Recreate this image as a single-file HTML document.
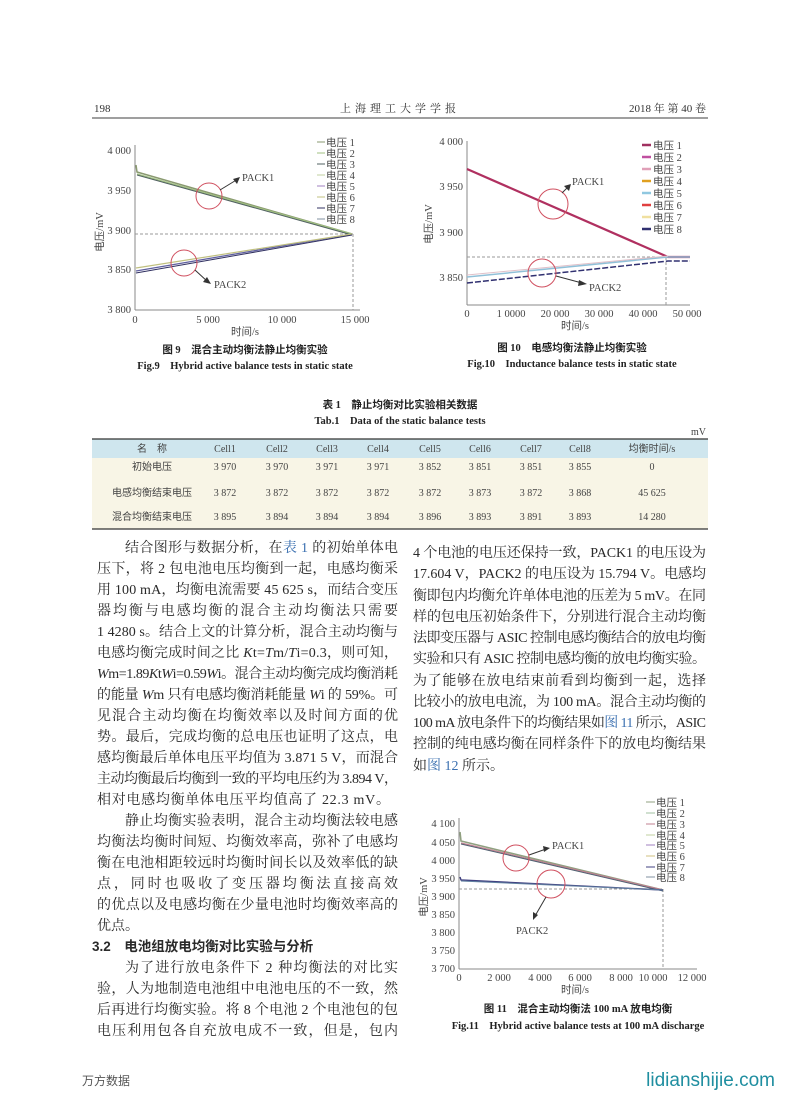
<!DOCTYPE html>
<html><head><meta charset="utf-8"><style>
html,body{margin:0;padding:0;background:#fff}
svg{display:block}
.cn{font-family:"Liberation Serif","Noto Serif CJK SC","Noto Sans CJK SC",serif}
.t{font-size:14px;fill:#2a2a2a}
.tk{font-family:"Liberation Serif","Noto Sans CJK SC",serif;font-size:10.5px;fill:#444}
.lg{font-family:"Liberation Serif","Noto Sans CJK SC",serif;font-size:10.5px;fill:#444}
.cap{font-family:"Liberation Serif","Noto Sans CJK SC",serif;font-size:10.5px;fill:#222;font-weight:bold}
.tb{font-family:"Liberation Serif","Noto Sans CJK SC",serif;font-size:10px;fill:#444}
a{fill:#3a6fb0}
</style></head><body>
<svg width="800" height="1114" viewBox="0 0 800 1114" xmlns="http://www.w3.org/2000/svg">
<!-- header -->
<g class="cn" font-size="11" fill="#333">
<text x="94" y="112">198</text>
<text x="400" y="112" text-anchor="middle" letter-spacing="4">上海理工大学学报</text>
<text x="706" y="112" text-anchor="end">2018 年 第 40 卷</text>
</g>
<line x1="92" y1="118" x2="708" y2="118" stroke="#666" stroke-width="1.2"/>

<!-- FIG 9 -->
<g>
<line x1="135" y1="145" x2="135" y2="310" stroke="#888"/>
<line x1="135" y1="310" x2="360" y2="310" stroke="#888"/>
<g class="tk" text-anchor="end">
<text x="131" y="154">4 000</text><text x="131" y="194">3 950</text><text x="131" y="234">3 900</text><text x="131" y="273">3 850</text><text x="131" y="313">3 800</text>
</g>
<g class="tk" text-anchor="middle">
<text x="135" y="323">0</text><text x="208" y="323">5 000</text><text x="282" y="323">10 000</text><text x="355" y="323">15 000</text>
</g>
<text class="tk" x="245" y="335" text-anchor="middle">时间/s</text>
<text class="tk" transform="translate(103,232) rotate(-90)" text-anchor="middle">电压/mV</text>
<line x1="135" y1="234" x2="354" y2="234" stroke="#999" stroke-dasharray="3,2"/>
<line x1="353" y1="234" x2="353" y2="310" stroke="#999" stroke-dasharray="3,2"/>
<polyline points="136,165 137,172 352,234" fill="none" stroke="#8a9a70" stroke-width="1.5"/>
<line x1="137" y1="174" x2="352" y2="234" stroke="#a0c080" stroke-width="1.2"/>
<line x1="137" y1="175" x2="352" y2="235" stroke="#506060" stroke-width="1"/>
<line x1="136" y1="271" x2="352" y2="234" stroke="#6060a0" stroke-width="1.3"/>
<line x1="136" y1="268" x2="352" y2="234" stroke="#c0c080" stroke-width="1.2"/>
<line x1="136" y1="273" x2="352" y2="235" stroke="#303060" stroke-width="1"/>
<circle cx="209" cy="196" r="13" fill="none" stroke="#d05060"/>
<circle cx="184" cy="263" r="13" fill="none" stroke="#d05060"/>
<line x1="220" y1="190" x2="238" y2="179" stroke="#333"/><polygon points="240,177 233,179 237,184" fill="#333"/>
<line x1="195" y1="270" x2="208" y2="282" stroke="#333"/><polygon points="211,284 203,282 207,277" fill="#333"/>
<text class="tk" x="242" y="181">PACK1</text>
<text class="tk" x="214" y="288">PACK2</text>
<g class="lg">
<line x1="317" y1="142" x2="325" y2="142" stroke="#8a9a70"/><text x="326" y="146">电压 1</text>
<line x1="317" y1="153" x2="325" y2="153" stroke="#a0c080"/><text x="326" y="157">电压 2</text>
<line x1="317" y1="164" x2="325" y2="164" stroke="#506060"/><text x="326" y="168">电压 3</text>
<line x1="317" y1="175" x2="325" y2="175" stroke="#c0d0a0"/><text x="326" y="179">电压 4</text>
<line x1="317" y1="186" x2="325" y2="186" stroke="#a080c0"/><text x="326" y="190">电压 5</text>
<line x1="317" y1="197" x2="325" y2="197" stroke="#c0c080"/><text x="326" y="201">电压 6</text>
<line x1="317" y1="208" x2="325" y2="208" stroke="#303060"/><text x="326" y="212">电压 7</text>
<line x1="317" y1="219" x2="325" y2="219" stroke="#8090a0"/><text x="326" y="223">电压 8</text>
</g>
<text class="cap" x="245" y="353" text-anchor="middle">图 9　混合主动均衡法静止均衡实验</text>
<text class="cap" x="245" y="369" text-anchor="middle">Fig.9　Hybrid active balance tests in static state</text>
</g>

<!-- FIG 10 -->
<g>
<line x1="467" y1="141" x2="467" y2="305" stroke="#888"/>
<line x1="467" y1="305" x2="690" y2="305" stroke="#888"/>
<g class="tk" text-anchor="end">
<text x="463" y="145">4 000</text><text x="463" y="190">3 950</text><text x="463" y="236">3 900</text><text x="463" y="281">3 850</text>
</g>
<g class="tk" text-anchor="middle">
<text x="467" y="317">0</text><text x="511" y="317">1 0000</text><text x="555" y="317">20 000</text><text x="599" y="317">30 000</text><text x="643" y="317">40 000</text><text x="687" y="317">50 000</text>
</g>
<text class="tk" x="575" y="329" text-anchor="middle">时间/s</text>
<text class="tk" transform="translate(432,224) rotate(-90)" text-anchor="middle">电压/mV</text>
<line x1="467" y1="257" x2="668" y2="257" stroke="#999" stroke-dasharray="3,2"/>
<line x1="666" y1="257" x2="666" y2="305" stroke="#999" stroke-dasharray="3,2"/>
<polyline points="467,169 668,257 690,257" fill="none" stroke="#b03060" stroke-width="2.2"/>
<polyline points="467,277 668,257 690,257" fill="none" stroke="#90c0d8" stroke-width="1.5"/>
<polyline points="467,275 668,256" fill="none" stroke="#e0c0c8" stroke-width="1"/>
<polyline points="467,283 668,261 690,261" fill="none" stroke="#303070" stroke-width="1.5" stroke-dasharray="6,2"/>
<circle cx="553" cy="204" r="15" fill="none" stroke="#d05060"/>
<circle cx="542" cy="273" r="14" fill="none" stroke="#d05060"/>
<line x1="562" y1="193" x2="568" y2="187" stroke="#333"/><polygon points="571,184 564,186 569,191" fill="#333"/>
<line x1="556" y1="276" x2="582" y2="283" stroke="#333"/><polygon points="587,284 579,280 578,286" fill="#333"/>
<text class="tk" x="572" y="185">PACK1</text>
<text class="tk" x="589" y="291">PACK2</text>
<g class="lg">
<line x1="642" y1="145" x2="651" y2="145" stroke="#a03060" stroke-width="2.5"/><text x="653" y="149">电压 1</text>
<line x1="642" y1="157" x2="651" y2="157" stroke="#c050a0" stroke-width="2.5"/><text x="653" y="161">电压 2</text>
<line x1="642" y1="169" x2="651" y2="169" stroke="#e0a0b8" stroke-width="2.5"/><text x="653" y="173">电压 3</text>
<line x1="642" y1="181" x2="651" y2="181" stroke="#e0a020" stroke-width="2.5"/><text x="653" y="185">电压 4</text>
<line x1="642" y1="193" x2="651" y2="193" stroke="#90c8e0" stroke-width="2.5"/><text x="653" y="197">电压 5</text>
<line x1="642" y1="205" x2="651" y2="205" stroke="#e04040" stroke-width="2.5"/><text x="653" y="209">电压 6</text>
<line x1="642" y1="217" x2="651" y2="217" stroke="#f0e0a0" stroke-width="2.5"/><text x="653" y="221">电压 7</text>
<line x1="642" y1="229" x2="651" y2="229" stroke="#303070" stroke-width="2.5"/><text x="653" y="233">电压 8</text>
</g>
<text class="cap" x="572" y="351" text-anchor="middle">图 10　电感均衡法静止均衡实验</text>
<text class="cap" x="572" y="367" text-anchor="middle">Fig.10　Inductance balance tests in static state</text>
</g>

<!-- TABLE -->
<text class="cap" x="400" y="408" text-anchor="middle">表 1　静止均衡对比实验相关数据</text>
<text class="cap" x="400" y="424" text-anchor="middle">Tab.1　Data of the static balance tests</text>
<text class="tb" x="706" y="435" text-anchor="end">mV</text>
<rect x="92" y="439" width="616" height="19" fill="#cfe6ee"/>
<rect x="92" y="458" width="616" height="71" fill="#f8f5e6"/>
<line x1="92" y1="439" x2="708" y2="439" stroke="#333" stroke-width="1.3"/>
<line x1="92" y1="529" x2="708" y2="529" stroke="#333" stroke-width="1.3"/>
<g class="tb" text-anchor="middle">
<text x="152" y="452">名　称</text><text x="225" y="452">Cell1</text><text x="277" y="452">Cell2</text><text x="327" y="452">Cell3</text><text x="378" y="452">Cell4</text><text x="430" y="452">Cell5</text><text x="480" y="452">Cell6</text><text x="531" y="452">Cell7</text><text x="580" y="452">Cell8</text><text x="652" y="452">均衡时间/s</text>
<text x="152" y="470">初始电压</text><text x="225" y="470">3 970</text><text x="277" y="470">3 970</text><text x="327" y="470">3 971</text><text x="378" y="470">3 971</text><text x="430" y="470">3 852</text><text x="480" y="470">3 851</text><text x="531" y="470">3 851</text><text x="580" y="470">3 855</text><text x="652" y="470">0</text>
<text x="152" y="496">电感均衡结束电压</text><text x="225" y="496">3 872</text><text x="277" y="496">3 872</text><text x="327" y="496">3 872</text><text x="378" y="496">3 872</text><text x="430" y="496">3 872</text><text x="480" y="496">3 873</text><text x="531" y="496">3 872</text><text x="580" y="496">3 868</text><text x="652" y="496">45 625</text>
<text x="152" y="520">混合均衡结束电压</text><text x="225" y="520">3 895</text><text x="277" y="520">3 894</text><text x="327" y="520">3 894</text><text x="378" y="520">3 894</text><text x="430" y="520">3 896</text><text x="480" y="520">3 893</text><text x="531" y="520">3 891</text><text x="580" y="520">3 893</text><text x="652" y="520">14 280</text>
</g>

<!-- LEFT COLUMN -->
<g class="cn t">
<text x="125" y="552" textLength="273" lengthAdjust="spacing">结合图形与数据分析，在<tspan fill="#3a6fb0">表 1</tspan> 的初始单体电</text>
<text x="97" y="573" textLength="301" lengthAdjust="spacing">压下，将 2 包电池电压均衡到一起，电感均衡采</text>
<text x="97" y="594" textLength="301" lengthAdjust="spacing">用 100 mA，均衡电流需要 45 625 s，而结合变压</text>
<text x="97" y="615" textLength="301" lengthAdjust="spacing">器均衡与电感均衡的混合主动均衡法只需要</text>
<text x="97" y="636" textLength="301" lengthAdjust="spacing">1 4280 s。结合上文的计算分析，混合主动均衡与</text>
<text x="97" y="657" textLength="301" lengthAdjust="spacing">电感均衡完成时间之比 <tspan font-style="italic">K</tspan>t=<tspan font-style="italic">T</tspan>m/<tspan font-style="italic">T</tspan>i=0.3，则可知，</text>
<text x="97" y="678" textLength="301" lengthAdjust="spacing"><tspan font-style="italic">W</tspan>m=1.89<tspan font-style="italic">K</tspan>t<tspan font-style="italic">W</tspan>i=0.59<tspan font-style="italic">W</tspan>i。混合主动均衡完成均衡消耗</text>
<text x="97" y="699" textLength="301" lengthAdjust="spacing">的能量 <tspan font-style="italic">W</tspan>m 只有电感均衡消耗能量 <tspan font-style="italic">W</tspan>i 的 59%。可</text>
<text x="97" y="720" textLength="301" lengthAdjust="spacing">见混合主动均衡在均衡效率以及时间方面的优</text>
<text x="97" y="741" textLength="301" lengthAdjust="spacing">势。最后，完成均衡的总电压也证明了这点，电</text>
<text x="97" y="762" textLength="301" lengthAdjust="spacing">感均衡最后单体电压平均值为 3.871 5 V，而混合</text>
<text x="97" y="783" textLength="301" lengthAdjust="spacing">主动均衡最后均衡到一致的平均电压约为 3.894 V，</text>
<text x="97" y="804" textLength="293" lengthAdjust="spacing">相对电感均衡单体电压平均值高了 22.3 mV。</text>
<text x="125" y="825" textLength="273" lengthAdjust="spacing">静止均衡实验表明，混合主动均衡法较电感</text>
<text x="97" y="846" textLength="301" lengthAdjust="spacing">均衡法均衡时间短、均衡效率高，弥补了电感均</text>
<text x="97" y="867" textLength="301" lengthAdjust="spacing">衡在电池相距较远时均衡时间长以及效率低的缺</text>
<text x="97" y="888" textLength="301" lengthAdjust="spacing">点，同时也吸收了变压器均衡法直接高效</text>
<text x="97" y="909" textLength="301" lengthAdjust="spacing">的优点以及电感均衡在少量电池时均衡效率高的</text>
<text x="97" y="930">优点。</text>
<text x="92" y="951" font-weight="bold" font-family="Liberation Sans,Noto Sans CJK SC,sans-serif" font-size="13.5">3.2　电池组放电均衡对比实验与分析</text>
<text x="125" y="972" textLength="273" lengthAdjust="spacing">为了进行放电条件下 2 种均衡法的对比实</text>
<text x="97" y="993" textLength="301" lengthAdjust="spacing">验，人为地制造电池组中电池电压的不一致，然</text>
<text x="97" y="1014" textLength="301" lengthAdjust="spacing">后再进行均衡实验。将 8 个电池 2 个电池包的包</text>
<text x="97" y="1035" textLength="301" lengthAdjust="spacing">电压利用包各自充放电成不一致，但是，包内</text>
</g>

<!-- RIGHT COLUMN -->
<g class="cn t">
<text x="413" y="557" textLength="293" lengthAdjust="spacing">4 个电池的电压还保持一致，PACK1 的电压设为</text>
<text x="413" y="578" textLength="293" lengthAdjust="spacing">17.604 V，PACK2 的电压设为 15.794 V。电感均</text>
<text x="413" y="600" textLength="293" lengthAdjust="spacing">衡即包内均衡允许单体电池的压差为 5 mV。在同</text>
<text x="413" y="621" textLength="293" lengthAdjust="spacing">样的包电压初始条件下，分别进行混合主动均衡</text>
<text x="413" y="642" textLength="293" lengthAdjust="spacing">法即变压器与 ASIC 控制电感均衡结合的放电均衡</text>
<text x="413" y="663" textLength="293" lengthAdjust="spacing">实验和只有 ASIC 控制电感均衡的放电均衡实验。</text>
<text x="413" y="685" textLength="293" lengthAdjust="spacing">为了能够在放电结束前看到均衡到一起，选择</text>
<text x="413" y="706" textLength="293" lengthAdjust="spacing">比较小的放电电流，为 100 mA。混合主动均衡的</text>
<text x="413" y="727" textLength="293" lengthAdjust="spacing">100 mA 放电条件下的均衡结果如<tspan fill="#3a6fb0">图 11</tspan> 所示，ASIC</text>
<text x="413" y="748" textLength="293" lengthAdjust="spacing">控制的纯电感均衡在同样条件下的放电均衡结果</text>
<text x="413" y="770">如<tspan fill="#3a6fb0">图 12</tspan> 所示。</text>
</g>

<!-- FIG 11 -->
<g>
<line x1="459" y1="818" x2="459" y2="969" stroke="#888"/>
<line x1="459" y1="969" x2="697" y2="969" stroke="#888"/>
<g class="tk" text-anchor="end">
<text x="455" y="827">4 100</text><text x="455" y="846">4 050</text><text x="455" y="864">4 000</text><text x="455" y="882">3 950</text><text x="455" y="900">3 900</text><text x="455" y="918">3 850</text><text x="455" y="936">3 800</text><text x="455" y="954">3 750</text><text x="455" y="972">3 700</text>
</g>
<g class="tk" text-anchor="middle">
<text x="459" y="981">0</text><text x="499" y="981">2 000</text><text x="540" y="981">4 000</text><text x="580" y="981">6 000</text><text x="621" y="981">8 000</text><text x="653" y="981">10 000</text><text x="692" y="981">12 000</text>
</g>
<text class="tk" x="575" y="993" text-anchor="middle">时间/s</text>
<text class="tk" transform="translate(427,897) rotate(-90)" text-anchor="middle">电压/mV</text>
<line x1="459" y1="889" x2="663" y2="889" stroke="#999" stroke-dasharray="3,2"/>
<line x1="663" y1="889" x2="663" y2="969" stroke="#999" stroke-dasharray="3,2"/>
<polyline points="460,832 461,841 663,890" fill="none" stroke="#90a080" stroke-width="1.6"/>
<line x1="461" y1="843" x2="663" y2="890" stroke="#c08090" stroke-width="1.2"/>
<line x1="461" y1="844" x2="663" y2="891" stroke="#506070" stroke-width="1"/>
<polyline points="460,877 461,880 663,890" fill="none" stroke="#404080" stroke-width="1.4"/>
<line x1="461" y1="881" x2="663" y2="890" stroke="#6080a0" stroke-width="1"/>
<circle cx="516" cy="858" r="13" fill="none" stroke="#d05060"/>
<circle cx="551" cy="884" r="14" fill="none" stroke="#d05060"/>
<line x1="529" y1="855" x2="546" y2="849" stroke="#333"/><polygon points="550,848 543,846 544,852" fill="#333"/>
<line x1="546" y1="897" x2="535" y2="916" stroke="#333"/><polygon points="533,920 533,912 538,915" fill="#333"/>
<text class="tk" x="552" y="849">PACK1</text>
<text class="tk" x="516" y="934">PACK2</text>
<g class="lg">
<line x1="646" y1="802" x2="655" y2="802" stroke="#90a080"/><text x="656" y="806">电压 1</text>
<line x1="646" y1="813" x2="655" y2="813" stroke="#a0c0a0"/><text x="656" y="817">电压 2</text>
<line x1="646" y1="824" x2="655" y2="824" stroke="#c08090"/><text x="656" y="828">电压 3</text>
<line x1="646" y1="835" x2="655" y2="835" stroke="#c0d0a0"/><text x="656" y="839">电压 4</text>
<line x1="646" y1="845" x2="655" y2="845" stroke="#a080c0"/><text x="656" y="849">电压 5</text>
<line x1="646" y1="856" x2="655" y2="856" stroke="#d0c080"/><text x="656" y="860">电压 6</text>
<line x1="646" y1="867" x2="655" y2="867" stroke="#404080"/><text x="656" y="871">电压 7</text>
<line x1="646" y1="877" x2="655" y2="877" stroke="#8090a0"/><text x="656" y="881">电压 8</text>
</g>
<text class="cap" x="578" y="1012" text-anchor="middle">图 11　混合主动均衡法 100 mA 放电均衡</text>
<text class="cap" x="578" y="1029" text-anchor="middle">Fig.11　Hybrid active balance tests at 100 mA discharge</text>
</g>

<!-- footer -->
<text x="82" y="1085" font-family="Liberation Sans,Noto Sans CJK SC,sans-serif" font-size="12" fill="#555">万方数据</text>
<text x="775" y="1086" text-anchor="end" font-family="Liberation Sans,sans-serif" font-size="19" fill="#1f8ea0">lidianshijie.com</text>
</svg>
</body></html>
